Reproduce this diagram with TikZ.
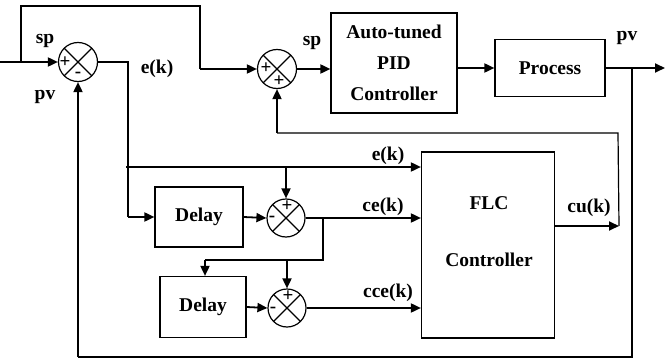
\documentclass[tikz,border=0pt]{standalone}
\usepackage{fontspec}
\setmainfont{Liberation Serif}
\usetikzlibrary{arrows.meta,calc}

\begin{document}
\begin{tikzpicture}[
      x=1pt, y=-1pt,
      blockbox/.style={
        rectangle, draw, line width=1.2pt, align=center,
        font=\fontsize{19.5pt}{31pt}\selectfont\bfseries
      },
      boxtxt/.style={font=\fontsize{19.5pt}{22pt}\selectfont\bfseries, inner sep=0pt},
      sumnode/.style={
        circle, draw, line width=1.2pt, minimum size=39pt, inner sep=0pt,
        path picture={\draw[line width=1.2pt]
          (path picture bounding box.north west) -- (path picture bounding box.south east)
          (path picture bounding box.north east) -- (path picture bounding box.south west);}
      },
      signtxt/.style={font=\fontsize{19pt}{19pt}\selectfont\bfseries, inner sep=0pt},
      sigtxt/.style={font=\fontsize{19.5pt}{19.5pt}\selectfont\bfseries, inner sep=0pt},
      flowarr/.style={-{Triangle[length=10pt,width=9pt]}, line width=1.8pt},
      plainln/.style={line width=1.2pt}
    ]
      \useasboundingbox (0,0) rectangle (666,361);

      % summing junctions
      \node[sumnode] (sum1) at (78,62) {};
      \node[sumnode] (sum2) at (277,69) {};
      \node[sumnode, minimum size=38pt] (sum3) at (286,218) {};
      \node[sumnode, minimum size=38pt] (sum4) at (287,308) {};

      % blocks
      \node[blockbox, minimum width=126pt, minimum height=100pt] (pid) at (394,63) {Auto-tuned\\PID\\Controller};
      \node[blockbox, minimum width=110pt, minimum height=57pt] (proc) at (550,68) {Process};
      \node[blockbox, minimum width=133pt, minimum height=186pt] (flc) at (488,245) {};
      \node[boxtxt] (flcname) at (489,203) {FLC};
      \node[boxtxt] (flcsub) at (489,260) {Controller};
      \node[blockbox, minimum width=88pt, minimum height=60pt] (del1) at (199,217) {Delay};
      \node[blockbox, minimum width=86pt, minimum height=61pt] (del2) at (203,307) {Delay};

      % signs
      \node[signtxt] (s1a) at (65,62) {+};
      \node[signtxt] (s1b) at (78,75) {-};
      \node[signtxt] (s2a) at (266,68) {+};
      \node[signtxt] (s2b) at (279,81) {+};
      \node[signtxt] (s3a) at (287,206) {+};
      \node[signtxt] (s3b) at (272,219) {-};
      \node[signtxt] (s4a) at (288,296) {+};
      \node[signtxt] (s4b) at (273,310) {-};

      % signal labels
      \node[sigtxt] (lsp1) at (45,41) {sp};
      \node[sigtxt] (lpv1) at (45,97) {pv};
      \node[sigtxt] (lek1) at (157,69) {e(k)};
      \node[sigtxt] (lsp2) at (312,43) {sp};
      \node[sigtxt] (lpv2) at (627,38) {pv};
      \node[sigtxt] (lek2) at (388,156) {e(k)};
      \node[sigtxt] (lce) at (383,207) {ce(k)};
      \node[sigtxt] (lcce) at (388,293) {cce(k)};
      \node[sigtxt] (lcu) at (589,208) {cu(k)};

      % connection points
      \coordinate (src) at (0,62);
      \coordinate (tap1) at (21,62);
      \coordinate (topr) at (200,6);
      \coordinate (topd) at (200,69);
      \coordinate (ekdown) at (128,217);
      \coordinate (ekbr) at (126,167);
      \coordinate (cetap) at (323,218);
      \coordinate (dtap) at (205,260);
      \coordinate (out) at (665,68);
      \coordinate (pvtap) at (632,68);
      \coordinate (fbleft) at (78,357);
      \coordinate (cuk) at (619,226);
      \coordinate (fbpid) at (618,133);
      \coordinate (fbpidl) at (277,133);

      % forward path
      \draw[flowarr] (src) -- (sum1.west);
      \draw[plainln] (tap1) |- (topr) -- (topd);
      \draw[flowarr] (topd) -- (sum2.west);
      \draw[flowarr] (sum2.east) -- (sum2.east -| pid.west);
      \draw[flowarr] (pid.east |- proc.west) -- (proc.west);
      \draw[flowarr] (proc.east) -- (out);

      % error and its changes
      \draw[plainln] (sum1.east) -| (ekdown);
      \draw[flowarr] (ekdown) -- (del1.west);
      \draw[flowarr] (ekbr) -- (ekbr -| flc.west);
      \draw[flowarr] (ekbr -| sum3.north) -- (sum3.north);
      \draw[flowarr] (del1.east) -- (sum3.west);
      \draw[flowarr] (sum3.east) -- (sum3.east -| flc.west);
      \draw[plainln] (cetap) |- (dtap);
      \draw[flowarr] (dtap) -- (dtap |- del2.north);
      \draw[flowarr] (dtap -| sum4.north) -- (sum4.north);
      \draw[flowarr] (del2.east) -- (sum4.west);
      \draw[flowarr] (sum4.east) -- (sum4.east -| flc.west);

      % feedback paths
      \draw[plainln] (pvtap) |- (fbleft);
      \draw[flowarr] (fbleft) -- (sum1.south);
      \draw[flowarr] (flc.east |- cuk) -- (cuk);
      \draw[plainln] (cuk) -- (fbpid) -- (fbpidl);
      \draw[flowarr] (fbpidl) -- (sum2.south);
    \end{tikzpicture}
\end{document}
